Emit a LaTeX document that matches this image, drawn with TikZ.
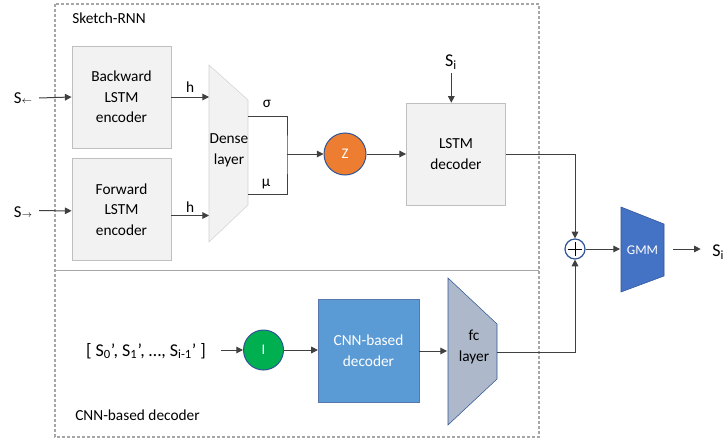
\documentclass[tikz,border=0pt]{standalone}
\usepackage{fontspec}
\setmainfont{Carlito}
\usetikzlibrary{arrows.meta}
\definecolor{boxgray}{HTML}{F2F2F2}
\definecolor{boxline}{HTML}{BFBFBF}
\definecolor{linegray}{HTML}{404040}
\definecolor{framegray}{HTML}{A6A6A6}
\definecolor{zorange}{HTML}{ED7D31}
\definecolor{igreen}{HTML}{00B050}
\definecolor{circblue}{HTML}{2F5597}
\definecolor{cnnblue}{HTML}{5B9BD5}
\definecolor{gmmblue}{HTML}{4472C4}
\definecolor{fcgray}{HTML}{ADB9CA}

\begin{document}
\begin{tikzpicture}[x=0.75pt,y=-0.75pt,
	font=\fontsize{11.5}{15.5}\selectfont,
	every node/.style={inner sep=0pt},
	arr/.style={-{Triangle[length=5pt,width=5pt]},draw=linegray,line width=0.75pt},
	wire/.style={draw=linegray,line width=0.75pt},
	graybox/.style={draw=boxline,fill=boxgray,minimum width=74.5pt,minimum height=76.5pt,align=center},
	bignum/.style={font=\fontsize{13.5}{16}\selectfont},
	disc/.style={circle,draw=circblue,line width=0.75pt,text=white,font=\fontsize{11}{12}\selectfont}]
	\useasboundingbox (0,0) rectangle (725,439);

	\draw[framegray,line width=0.8pt,dash pattern=on 2.25pt off 1.5pt] (55,4) rectangle (539,437);
	\draw[framegray,line width=1.1pt] (55,270.5) -- (539,270.5);
	\node[anchor=west] (rnnlbl) at (72,18) {Sketch-RNN};
	\node[anchor=west] (cnnlbl) at (75,415) {CNN-based decoder};

	\node[graybox] (bwd) at (121.5,97) {Backward\\LSTM\\encoder};
	\node[graybox] (fwd) at (121.5,209.5) {Forward\\LSTM\\encoder};
	\node[font=\fontsize{12.5}{14}\selectfont] (sbwd) at (23,98) {S{\scriptsize$\leftarrow$}};
	\node[font=\fontsize{12.5}{14}\selectfont] (sfwd) at (23,212) {S{\scriptsize$\rightarrow$}};
	\draw[arr] ([xshift=5pt]sbwd.east) -- (bwd.west);
	\draw[arr] ([xshift=5pt,yshift=1pt]sfwd.east) -- ([yshift=-1pt]fwd.west);

	\draw[draw=boxline!70,fill=boxgray] (209,65) -- (248,100) -- (248,205) -- (209,242) -- cycle;
	\node[align=center] (dense) at (229,150) {Dense\\layer};
	\coordinate (dl) at (209,0);
	\coordinate (dr) at (248,0);
	\draw[arr] (bwd.east) -- (bwd.east -| dl) node[midway,above=3pt] {h};
	\draw[arr] ([yshift=-4.5pt]fwd.east) -- ([yshift=-4.5pt]fwd.east -| dl) node[midway,above=2pt] {h};

	\coordinate (sig) at (248,116);
	\coordinate (mu) at (248,194);
	\coordinate (join) at (287,154);
	\draw[wire] (sig) -| (join) |- (mu);
	\node (siglbl) at (267,104) {σ};
	\node (mulbl) at (266,184) {μ};

	\node[disc,fill=zorange,minimum size=31.5pt] (z) at (345,154) {Z};
	\draw[arr] (join) -- (z.west);

	\node[graybox] (dec) at (456,154) {LSTM\\decoder};
	\node[bignum] (sin) at (451,62) {S\textsubscript{i}};
	\draw[arr] ([xshift=-3.5pt]dec.north |- 0,73) -- ([xshift=-3.5pt]dec.north);
	\draw[arr] (z.east) -- (dec.west);

	\node[circle,draw=circblue,fill=white,line width=0.9pt,minimum size=15pt,
		path picture={\draw[black,line width=0.6pt]
			([yshift=-2pt]path picture bounding box.north) -- ([yshift=2pt]path picture bounding box.south)
			([xshift=2pt]path picture bounding box.west) -- ([xshift=-2pt]path picture bounding box.east);}] (plus) at (575,249) {};
	\draw[arr] (dec.east) -| (plus.north);

	\draw[draw=circblue,fill=gmmblue] (621,207) -- (664,224) -- (664,276) -- (621,292) -- cycle;
	\node[text=white,font=\fontsize{10}{12}\selectfont] (gmm) at (642.5,250) {GMM};
	\coordinate (gl) at (620,249);
	\coordinate (gr) at (673,249);
	\draw[arr] (plus.east) -- (gl);
	\node[bignum,anchor=west] (sout) at (712,252) {S\textsubscript{i}};
	\draw[arr] (gr) -- ([xshift=-8.5pt]sout.west |- gr);

	\node[bignum] (seq) at (146,351) {[ S\textsubscript{0}’, S\textsubscript{1}’, …, S\textsubscript{i-1}’ ]};
	\node[disc,fill=igreen,minimum size=30pt] (img) at (263.5,350) {I};
	\draw[arr] ([xshift=11pt]seq.east |- img.west) -- (img.west);
	\node[draw=circblue!80,fill=cnnblue,minimum width=75.5pt,minimum height=77pt,align=center,text=white] (cnn) at (368.5,351) {CNN-based\\decoder};
	\draw[arr] (img.east) -- (cnn.west |- img.east);

	\draw[draw=circblue,fill=fcgray] (448,278) -- (497,324) -- (497,379) -- (448,425) -- cycle;
	\node[align=center] (fc) at (474,347) {fc\\layer};
	\coordinate (fl) at (447,351);
	\coordinate (fr) at (497,352);
	\draw[arr] (cnn.east) -- (fl);
	\draw[arr] (fr) -| (plus.south);
\end{tikzpicture}
\end{document}
